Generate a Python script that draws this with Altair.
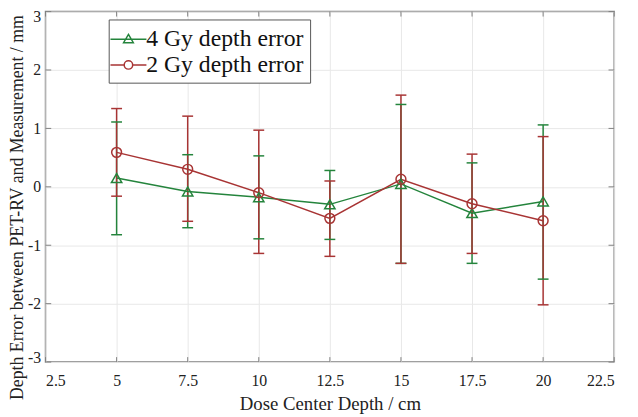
import altair as alt
import pandas as pd

depth = [5, 7.5, 10, 12.5, 15, 17.5, 20]
g4_mean = [0.15, -0.08, -0.18, -0.30, 0.05, -0.45, -0.25]
g4_lo = [-0.82, -0.70, -0.89, -0.90, -1.31, -1.31, -1.58]
g4_hi = [1.11, 0.55, 0.53, 0.28, 1.41, 0.41, 1.06]
g2_mean = [0.59, 0.30, -0.10, -0.54, 0.13, -0.29, -0.58]
g2_lo = [-0.16, -0.59, -1.14, -1.19, -1.31, -1.14, -2.02]
g2_hi = [1.34, 1.21, 0.97, 0.10, 1.57, 0.56, 0.86]

series_names = ["4 Gy depth error", "2 Gy depth error"]
x_ticks = [2.5, 5, 7.5, 10, 12.5, 15, 17.5, 20, 22.5]
y_ticks = [-3, -2, -1, 0, 1, 2, 3]

GREEN = "#24843c"
RED = "#a83434"
FONT = "Liberation Serif, Times New Roman, serif"
FRAME = "#808080"

rows = []
for name, m, lo, hi in [(series_names[0], g4_mean, g4_lo, g4_hi),
                        (series_names[1], g2_mean, g2_lo, g2_hi)]:
    for x, a, b, c in zip(depth, m, lo, hi):
        rows.append({"x": x, "mean": a, "lo": b, "hi": c, "series": name})
df = pd.DataFrame(rows)

xdom = [2.5, 22.5]
ydom = [-3, 3]
xscale = alt.Scale(domain=xdom, nice=False, zero=False)
yscale = alt.Scale(domain=ydom, nice=False, zero=False)

color_scale = alt.Scale(domain=series_names, range=[GREEN, RED])
LEG = alt.Legend(title=None, orient="none", legendX=64, legendY=8,
                 symbolFillColor="transparent", symbolStrokeWidth=1.5)

x_axis = alt.Axis(values=x_ticks, title="Dose Center Depth / cm", grid=True,
                  labelExpr="'' + datum.value", labelPadding=11, titlePadding=6,
                  labelFont=FONT, titleFont=FONT)
y_axis = alt.Axis(values=y_ticks, title="Depth Error between PET-RV and Measurement / mm",
                  grid=True, labelExpr="'' + datum.value", labelPadding=5, titlePadding=1,
                  labelFlush=True, labelFlushOffset=3, titleY=198,
                  labelFont=FONT, titleFont=FONT)

base = alt.Chart(df)

X = alt.X("x:Q", scale=xscale, axis=x_axis)
colr = alt.Color("series:N", scale=color_scale, legend=LEG)

bars = base.mark_rule(strokeWidth=1.5).encode(
    x=X, y=alt.Y("lo:Q", scale=yscale, axis=y_axis), y2="hi:Q", color=colr)
caps_lo = base.mark_rule(strokeWidth=1.5, xOffset=-5.5, x2Offset=5.5).encode(
    x="x:Q", x2="x:Q", y=alt.Y("lo:Q"), color=colr)
caps_hi = base.mark_rule(strokeWidth=1.5, xOffset=-5.5, x2Offset=5.5).encode(
    x="x:Q", x2="x:Q", y=alt.Y("hi:Q"), color=colr)
lines = base.mark_line(strokeWidth=1.5).encode(
    x="x:Q", y=alt.Y("mean:Q"), color=colr, detail="series:N")
pts_g4 = base.mark_point(filled=False, strokeWidth=1.5, size=110, opacity=1,
                         shape="triangle-up").transform_filter(
    alt.datum.series == series_names[0]).encode(x="x:Q", y=alt.Y("mean:Q"), color=colr)
pts_g2 = base.mark_point(filled=False, strokeWidth=1.5, size=100, opacity=1,
                         shape="circle").transform_filter(
    alt.datum.series == series_names[1]).encode(x="x:Q", y=alt.Y("mean:Q"), color=colr)

# legend-only layer (no data rows), symbols are line + marker
tri_path = "M-1.4,0H1.4M0,-0.38L0.38,0.27L-0.38,0.27Z"
circ_path = ("M-1.4,0H-0.33M0.33,0H1.4M0.33,0A0.33,0.33 0 1,1 -0.33,0"
             "A0.33,0.33 0 1,1 0.33,0Z")
legend_layer = base.mark_point(filled=False, strokeWidth=1.5, opacity=1).transform_filter(
    "false").encode(
    x="x:Q", y=alt.Y("mean:Q"),
    color=colr,
    shape=alt.Shape("series:N", scale=alt.Scale(domain=series_names,
                                                range=[tri_path, circ_path]),
                    legend=LEG))

# inward tick marks on all four sides
tlen_y = 0.085
tlen_x = 0.2
tick_rows = []
for v in x_ticks:
    tick_rows.append({"x": v, "x2": v, "y": ydom[0], "y2": ydom[0] + tlen_y})
    tick_rows.append({"x": v, "x2": v, "y": ydom[1], "y2": ydom[1] - tlen_y})
for v in y_ticks:
    tick_rows.append({"x": xdom[0], "x2": xdom[0] + tlen_x, "y": v, "y2": v})
    tick_rows.append({"x": xdom[1], "x2": xdom[1] - tlen_x, "y": v, "y2": v})
ticks = alt.Chart(pd.DataFrame(tick_rows)).mark_rule(color=FRAME, strokeWidth=1).encode(
    x="x:Q", x2="x2:Q", y="y:Q", y2="y2:Q")

chart = alt.layer(bars, caps_lo, caps_hi, lines, pts_g4, pts_g2, ticks,
                  legend_layer).properties(
    width=576, height=355,
    autosize=alt.AutoSizeParams(type="none"),
    padding={"left": 38, "top": 1, "right": 16, "bottom": 53},
).configure_view(stroke=FRAME, strokeWidth=1.5).configure_axis(
    gridColor="#e8e8e8", gridWidth=1, ticks=False, domain=False,
    labelFont=FONT, labelFontSize=16, labelColor="#222", labelFontWeight="normal",
    titleFont=FONT, titleFontSize=18, titleFontWeight="normal", titleColor="#222",
).configure_axisX(titleFontSize=19).configure_legend(
    strokeColor="#555", fillColor="white", padding=6, cornerRadius=0,
    labelFont=FONT, labelFontSize=24, labelColor="#111", labelOffset=4,
    symbolSize=676, symbolStrokeWidth=1.5, rowPadding=0, labelLimit=400,
)

chart.save("out.html", embed_options={"renderer": "svg", "actions": False})
